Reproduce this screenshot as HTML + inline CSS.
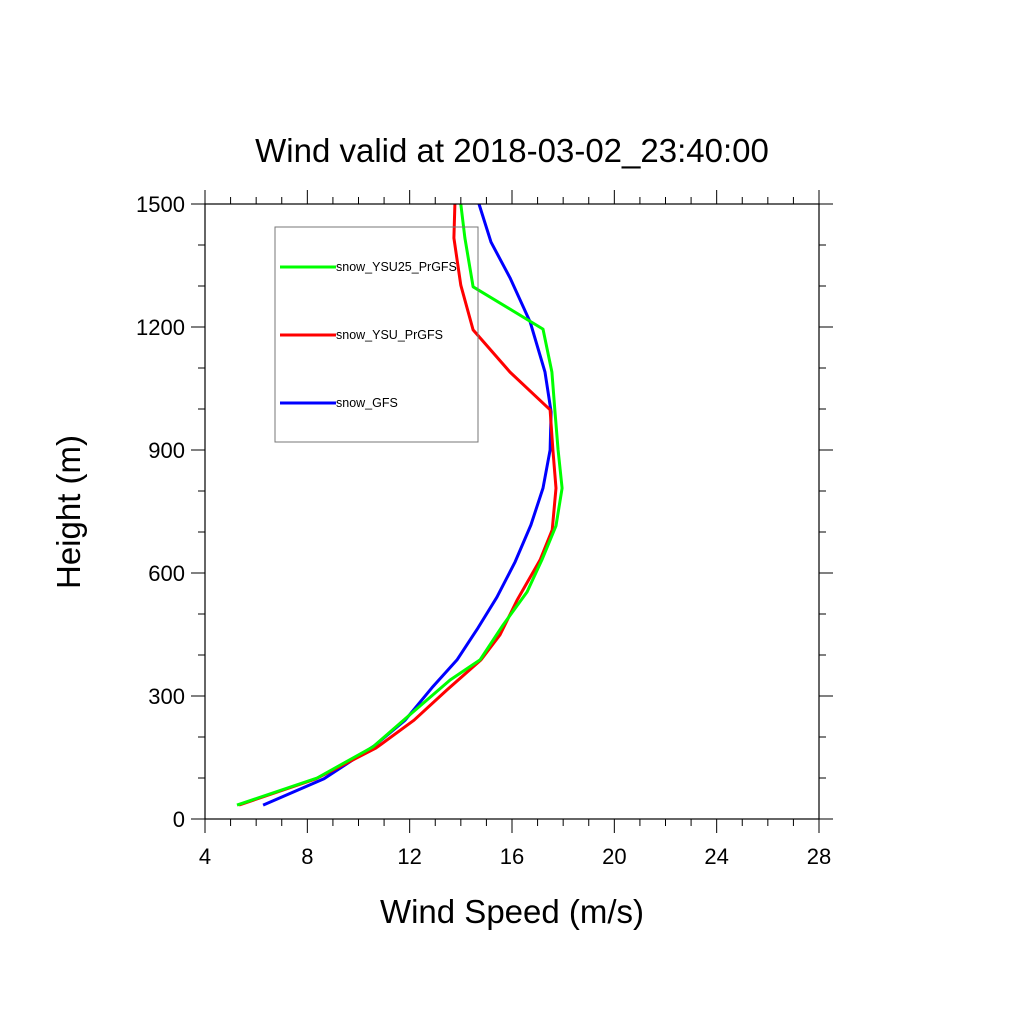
<!DOCTYPE html>
<html><head><meta charset="utf-8"><style>body{margin:0;background:#fff}svg{display:block;font-family:"Liberation Sans",sans-serif}</style></head>
<body>
<svg id="chart" width="1024" height="1024" xmlns="http://www.w3.org/2000/svg">
<rect width="1024" height="1024" fill="#fff"/>
<text x="512" y="162" font-size="33" text-anchor="middle">Wind valid at 2018-03-02_23:40:00</text>
<text x="512" y="923" font-size="33" text-anchor="middle">Wind Speed (m/s)</text>
<text x="0" y="0" font-size="33" text-anchor="middle" transform="translate(80,512) rotate(-90)">Height (m)</text>
<g id="axes"></g>
<g id="series"></g>
<rect x="275" y="227" width="203" height="215" fill="none" stroke="#777" stroke-width="1"/>
<g id="legend"></g>
<rect x="205" y="204" width="614" height="615" fill="none" stroke="#000" stroke-width="1.2"/>
</svg>
<script>
const xTicks=[4,8,12,16,20,24,28];
const yTicks=[0,300,600,900,1200,1500];
const heightsGreen=[34,100,176,254,339,388,473,554,632,715,807,900,993,1090,1195,1298,1417,1500];
const speedGreen=[5.25,8.38,10.57,12.0,13.58,14.75,15.65,16.59,17.17,17.72,17.96,17.8,17.68,17.56,17.21,14.48,14.16,14.0];
const heightsRed=[34,98,173,241,315,388,449,534,632,705,807,900,998,1090,1193,1302,1417,1500];
const speedRed=[5.33,8.34,10.68,12.17,13.46,14.79,15.53,16.2,17.1,17.57,17.72,17.6,17.49,15.92,14.48,14.0,13.73,13.77];
const heightsBlue=[34,98,180,241,320,388,466,541,627,717,807,900,993,1090,1212,1320,1407,1500];
const speedBlue=[6.27,8.65,10.65,11.82,12.87,13.85,14.67,15.41,16.12,16.74,17.21,17.49,17.53,17.29,16.71,15.92,15.18,14.71];
const seriesNames=["snow_YSU25_PrGFS","snow_YSU_PrGFS","snow_GFS"];
const NS="http://www.w3.org/2000/svg";
const X0=205,X1=819,Y0=819,Y1=204;
const xs=v=>X0+(v-4)/(28-4)*(X1-X0);
const ys=v=>Y0-(v-0)/(1500-0)*(Y0-Y1);
function mk(tag,attrs,parent){const e=document.createElementNS(NS,tag);for(const k in attrs)e.setAttribute(k,attrs[k]);parent.appendChild(e);return e;}
const ax=document.getElementById('axes');
for(let v=4;v<=28;v+=1){const major=(v%4===0);const L=major?14:7;const x=xs(v);
 let t=mk('line',{x1:x,x2:x,y1:Y0,y2:Y0+L,stroke:'#000','stroke-width':1},ax);
 
 
 let t2=mk('line',{x1:x,x2:x,y1:Y1,y2:Y1-L,stroke:'#000','stroke-width':1},ax);
 
 }
for(let v=0;v<=1500;v+=100){const major=(v%300===0);const L=major?14:7;const y=ys(v);
 let t=mk('line',{x1:X0,x2:X0-L,y1:y,y2:y,stroke:'#000','stroke-width':1},ax);
 
 
 let t2=mk('line',{x1:X1,x2:X1+L,y1:y,y2:y,stroke:'#000','stroke-width':1},ax);
 
 }
xTicks.forEach(v=>{const t=mk('text',{x:xs(v),y:Y0+45,'font-size':22,'text-anchor':'middle'},ax);t.textContent=v;
 
 });
yTicks.forEach(v=>{const t=mk('text',{x:X0-20,y:ys(v)+8,'font-size':22,'text-anchor':'end'},ax);t.textContent=v;
 
 });
const sg=document.getElementById('series');
function line(sp,hs,col,name){const d=sp.map((s,i)=>xs(s).toFixed(1)+','+ys(hs[i]).toFixed(1)).join(' ');
 const p=mk('polyline',{points:d,fill:'none',stroke:col,'stroke-width':3,'stroke-linejoin':'round'},sg);
 
 }
line(speedBlue,heightsBlue,'#0000ff','line-snow-gfs');
line(speedRed,heightsRed,'#ff0000','line-snow-ysu-prgfs');
line(speedGreen,heightsGreen,'#00ff00','line-snow-ysu25-prgfs');
const lg=document.getElementById('legend');
const cols=['#00ff00','#ff0000','#0000ff'];const ly=[267,335,403];
seriesNames.forEach((n,i)=>{
 const l=mk('line',{x1:280,x2:336,y1:ly[i],y2:ly[i],stroke:cols[i],'stroke-width':3},lg);
 
 
 const t=mk('text',{x:336,y:ly[i]+4,'font-size':12.5},lg);t.textContent=n;
 
 });
</script>
</body></html>
